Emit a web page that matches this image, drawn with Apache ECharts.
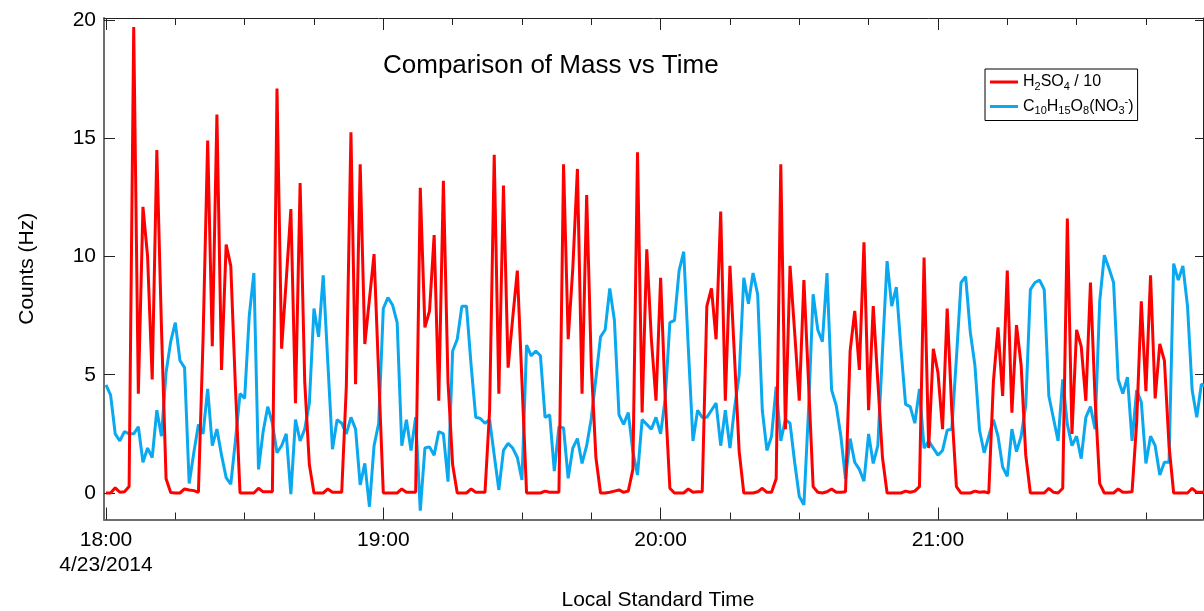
<!DOCTYPE html>
<html><head><meta charset="utf-8">
<script src="https://cdn.jsdelivr.net/npm/echarts@6/dist/echarts.min.js"></script>
<style>html,body{margin:0;padding:0;background:#fff}#c{width:1204px;height:611px}</style>
</head><body><div id="c"></div>
<script>
// H2SO4 / 10 counts (Hz), one sample per minute starting 18:00
const red = [
0,0,0.22,0.03,0.05,0.27,19.7,4.2,12.1,10.0,4.8,14.5,7.0,0.6,0.02,0,0,0.17,0.13,0.1,
0.03,6.5,14.9,6.2,16.0,5.2,10.5,9.6,4.5,0,0,0,0,0.2,0.05,0.05,0.05,17.1,6.1,9.0,
12.0,3.8,13.1,4.7,1.2,0,0,0,0.17,0.03,0.03,0.03,4.5,15.25,4.6,13.9,6.3,8.2,10.1,5.0,
0,0,0,0,0.17,0.03,0.03,0.03,12.9,7.0,7.7,10.9,3.9,13.2,4.7,1.2,0,0,0,0.17,
0.03,0.03,0.03,3.5,14.3,4.2,13.0,5.3,7.4,9.4,4.7,0,0,0,0,0.08,0.03,0.03,0.03,13.9,
6.5,9.5,13.7,4.2,12.6,5.4,1.5,0,0,0.03,0.08,0.13,0.03,0.08,1.0,14.4,3.4,10.3,6.5,3.9,
9.1,4.0,0.2,0,0,0,0.17,0.03,0.05,0.05,7.9,8.65,6.5,11.9,3.9,9.6,5.7,1.75,0,0,
0,0.05,0.2,0.03,0.03,0.6,13.9,2.7,9.6,6.8,3.9,9.0,4.7,0.27,0.03,0,0.05,0.17,0.03,0.03,
0.05,6.0,7.7,5.2,10.6,3.5,7.9,4.7,1.5,0,0,0,0,0.08,0.03,0.08,0.27,9.95,1.9,6.1,
5.1,2.7,7.8,3.5,0.27,0,0,0,0.08,0.03,0.05,0,4.7,7.0,4.1,9.4,3.4,7.1,5.4,1.6,
0,0,0,0,0.2,0.03,0,0.2,11.6,2.5,6.9,6.2,3.9,8.9,4.0,0.4,0,0,0,0.17,
0.03,0.03,0.05,3.0,8.1,4.3,9.2,4.0,6.3,5.6,2.0,0,0,0,0,0.2,0.03,0.03,0.05
];
// C10H15O8(NO3-) counts (Hz)
const blue = [
4.57,4.14,2.5,2.2,2.6,2.5,2.5,2.8,1.3,1.9,1.5,3.5,2.4,5.1,6.4,7.2,5.6,5.3,0.4,1.7,
2.9,2.5,4.4,2.0,2.7,1.6,0.65,0.37,2.2,4.2,4.0,7.5,9.3,1.0,2.6,3.65,2.95,1.7,2.0,2.5,
-0.05,3.1,2.2,2.7,3.8,7.8,6.6,9.2,5.5,1.85,3.1,2.95,2.5,3.2,2.7,0.34,1.25,-0.58,2.0,2.95,
7.8,8.26,7.95,7.2,2.0,3.1,1.8,3.2,-0.75,1.9,1.95,1.6,2.6,2.5,0.48,6.0,6.5,7.9,7.9,5.4,
3.2,3.15,2.95,3.1,1.6,0.13,1.8,2.1,1.9,1.5,0.55,6.25,5.8,6.0,5.8,3.2,3.3,0.93,2.8,2.75,
0.62,1.9,2.3,1.25,2.0,3.15,4.85,6.6,6.9,8.65,7.3,3.3,2.9,3.4,1.75,0.76,3.1,2.9,2.7,3.2,
2.5,4.0,7.2,7.3,9.4,10.2,6.1,2.2,3.5,3.2,3.2,3.5,3.8,2.0,3.5,1.9,3.6,5.0,9.1,8.0,
9.3,8.4,3.5,1.8,2.4,4.5,2.2,3.1,2.95,1.3,-0.15,-0.5,3.5,8.4,6.9,6.4,9.3,4.35,3.7,2.4,
0.6,2.3,1.3,1.0,0.5,2.5,1.25,2.0,6.0,9.8,7.9,8.7,6.1,3.75,3.65,2.95,4.4,1.9,2.2,1.9,
1.6,1.8,2.65,2.7,5.7,8.9,9.15,6.8,5.4,2.65,1.7,2.4,3.1,2.4,1.1,0.7,2.7,1.75,2.4,3.7,
8.6,8.9,9.0,8.6,4.1,3.15,2.2,4.8,2.9,2.0,2.4,1.45,3.2,3.65,2.7,8.1,10.05,9.5,8.9,4.8,
4.2,4.9,2.2,4.35,3.85,1.25,2.4,2.0,0.76,1.3,1.3,9.7,9.0,9.6,7.9,4.35,3.2,4.6,4.5
];
const seriesNames = ['H2SO4 / 10', 'C10H15O8(NO3-)'];
const hourTicks = [0, 60, 120, 180];
const hourLabels = ['18:00\n4/23/2014', '19:00', '20:00', '21:00'];
const quarterTicks = [0,15,30,45,60,75,90,105,120,135,150,165,180,195,210,225];
const yTicks = [0, 5, 10, 15, 20];

const FONT = "'Liberation Sans', Arial, sans-serif";
const X_MIN = -0.43, X_MAX = 237.35, Y_MIN = -1.12, Y_MAX = 20.08;
const minutes = red.map((_, i) => i); // sample times, minutes after 18:00
const redData = minutes.map(i => [i, red[i]]);
const blueData = minutes.map(i => [i, blue[i]]);

const gridBox = {left: 104, top: 18, width: 1099, height: 501.5, containLabel: false, outerBoundsMode: 'none'};
function xAx(grid, pos, ticks, len, lineStyle, labels) {
  return {
    type: 'value', gridIndex: grid, position: pos, min: X_MIN, max: X_MAX,
    axisLine: {show: !!lineStyle, onZero: false, lineStyle: lineStyle || {}},
    axisTick: {show: true, inside: true, length: len, customValues: ticks, lineStyle: {color: '#222', width: 1}},
    axisLabel: labels ? {
      show: true, customValues: hourTicks, margin: 8, color: '#000', fontFamily: FONT, fontSize: 21, lineHeight: 25,
      formatter: v => hourLabels[hourTicks.indexOf(Math.round(v))] || ''
    } : {show: false},
    splitLine: {show: false}
  };
}
const chart = echarts.init(document.getElementById('c'), null, {renderer: 'canvas'});
chart.setOption({
  animation: false,
  backgroundColor: '#fff',
  title: {text: 'Comparison of Mass vs Time', left: 378, top: 48,
    textStyle: {fontFamily: FONT, fontSize: 26, fontWeight: 'normal', color: '#000'}},
  legend: {
    data: seriesNames, orient: 'vertical', left: 985, top: 69,
    borderColor: '#000', borderWidth: 1, padding: [5, 4, 4, 5], itemGap: 4,
    icon: 'rect', itemWidth: 28, itemHeight: 3,
    formatter: n => n === seriesNames[0]
      ? '{n|H}{s|2}{n|SO}{s|4}{n| / 10}'
      : '{n|C}{s|10}{n|H}{s|15}{n|O}{s|8}{n|(NO}{s|3}{p|-}{n|)}',
    textStyle: {fontFamily: FONT, color: '#000', fontSize: 16,
      rich: {
        n: {fontFamily: FONT, fontSize: 16, color: '#000'},
        s: {fontFamily: FONT, fontSize: 11, color: '#000', padding: [9, 0, 0, 0]},
        p: {fontFamily: FONT, fontSize: 11, color: '#000', padding: [0, 0, 10, 0]}
      }}
  },
  grid: [Object.assign({}, gridBox), Object.assign({}, gridBox)],
  xAxis: [
    Object.assign(xAx(0, 'bottom', hourTicks, 12, {color: '#6e6e6e', width: 2}, true),
      {name: 'Local Standard Time', nameLocation: 'middle', nameGap: 70,
       nameTextStyle: {fontFamily: FONT, fontSize: 21, color: '#000', padding: [0, 0, 0, 9]}}),
    xAx(0, 'top', hourTicks, 12, {color: '#222', width: 1}, false),
    xAx(1, 'bottom', quarterTicks, 7, null, false),
    xAx(1, 'top', quarterTicks, 7, null, false)
  ],
  yAxis: [
    {type: 'value', gridIndex: 0, position: 'left', min: Y_MIN, max: Y_MAX,
     axisLine: {show: true, onZero: false, lineStyle: {color: '#6e6e6e', width: 2}},
     axisTick: {show: true, inside: true, length: 11, customValues: yTicks, lineStyle: {color: '#222'}},
     axisLabel: {show: true, customValues: yTicks, margin: 8, color: '#000', fontFamily: FONT, fontSize: 21},
     splitLine: {show: false},
     name: 'Counts (Hz)', nameLocation: 'middle', nameGap: 66,
     nameTextStyle: {fontFamily: FONT, fontSize: 21, color: '#000'}},
    {type: 'value', gridIndex: 0, position: 'right', min: Y_MIN, max: Y_MAX,
     axisLine: {show: true, onZero: false, lineStyle: {color: '#222', width: 1}},
     axisTick: {show: true, inside: true, length: 8, customValues: yTicks, lineStyle: {color: '#222'}},
     axisLabel: {show: false}, splitLine: {show: false}},
    {type: 'value', gridIndex: 1, min: Y_MIN, max: Y_MAX, show: false}
  ],
  series: [
    {name: seriesNames[1], type: 'line', xAxisIndex: 0, yAxisIndex: 0, data: blueData,
     color: '#0aa8ef', showSymbol: false, symbol: 'none', lineStyle: {width: 3, color: '#0aa8ef'}, z: 2},
    {name: seriesNames[0], type: 'line', xAxisIndex: 0, yAxisIndex: 0, data: redData,
     color: '#ff0000', showSymbol: false, symbol: 'none', lineStyle: {width: 3, color: '#ff0000'}, z: 3}
  ]
});
</script></body></html>
